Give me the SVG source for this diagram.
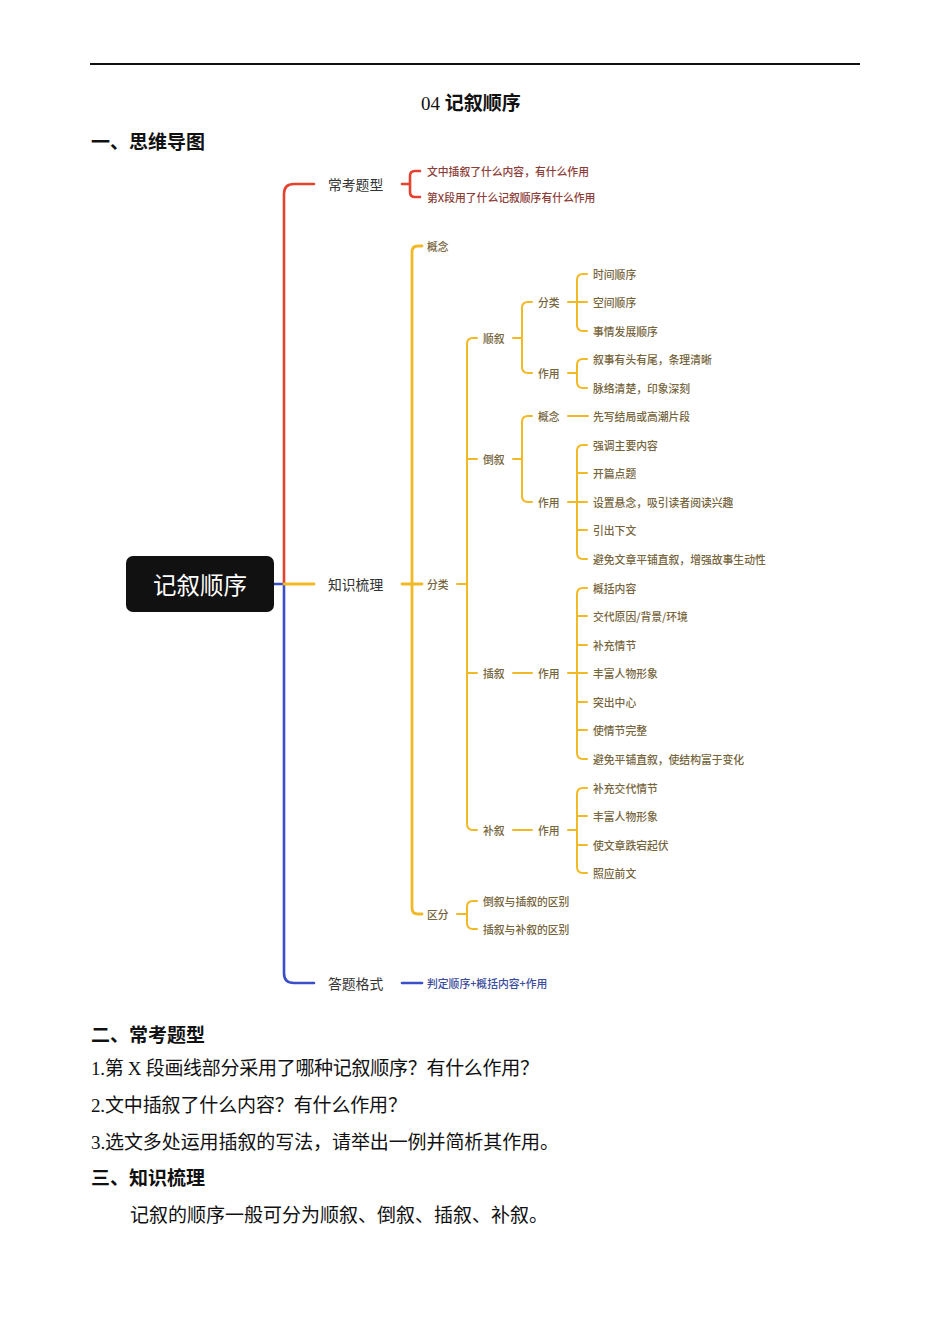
<svg xmlns="http://www.w3.org/2000/svg" width="950" height="1344" viewBox="0 0 950 1344">
<style>
.doc{font-family:"Liberation Serif","Noto Sans CJK SC",serif;font-size:19px;fill:#111}
.hd{font-family:"Noto Sans CJK SC",sans-serif;font-size:19px;font-weight:bold;fill:#111}
.mm{font-family:"Noto Sans CJK SC",sans-serif;dominant-baseline:central}
.main{font-size:13.8px;fill:#333}
.sm{font-size:10.8px;font-weight:500}
.ty{fill:#76653c}
.tr{fill:#8c3d37}
.tb{fill:#3c4d9c}
.ln{fill:none;stroke-linecap:round;stroke-linejoin:round}
.r{stroke:#e4412f;stroke-width:2.6}
.b{stroke:#3a4ec6;stroke-width:2.6}
.y1{stroke:#f2b927;stroke-width:2.8}
.y2{stroke:#f2b927;stroke-width:2}
</style>
<rect width="950" height="1344" fill="#fff"/>
<line x1="90" y1="64" x2="860" y2="64" stroke="#111" stroke-width="2"/>
<text x="421" y="110" class="doc" font-size="18"><tspan>04 </tspan><tspan font-family="Noto Sans CJK SC,sans-serif" font-weight="bold">记叙顺序</tspan></text>
<text x="91" y="149" class="hd">一、思维导图</text>

<g id="connectors">
  <path class="ln b" d="M274 584 H284"/>
  <path class="ln r" d="M284 584 V194 Q284 184 294 184 H314"/>
  <path class="ln b" d="M284 584 V973 Q284 983 294 983 H314"/>
  <path class="ln y1" d="M284 584 H314"/>
  <path class="ln r" d="M402 184 H410 M420 171 H415 Q410 171 410 176 V192 Q410 197 415 197 H420"/>
  <path class="ln b" d="M402 983 H422"/>
  <path class="ln y1" d="M402 584 H422 M422 246 H418 Q412 246 412 252 V908 Q412 914 418 914 H422"/>
  <path class="ln y2" d="M457 584 H467 M477 338 H473 Q467 338 467 344 V824 Q467 830 473 830 H477 M467 459 H477 M467 673 H477"/>
  <path class="ln y2" d="M457 914 H467 M477 901 H473 Q467 901 467 907 V923 Q467 929 473 929 H477"/>
  <path class="ln y2" d="M513 338 H522 M532 302 H528 Q522 302 522 308 V367 Q522 373 528 373 H532"/>
  <path class="ln y2" d="M568 302 H587 M587 274 H583 Q577 274 577 280 V325 Q577 331 583 331 H587"/>
  <path class="ln y2" d="M568 373 H577 M587 359 H583 Q577 359 577 365 V382 Q577 388 583 388 H587"/>
  <path class="ln y2" d="M513 459 H522 M532 416 H528 Q522 416 522 422 V496 Q522 502 528 502 H532"/>
  <path class="ln y2" d="M568 416 H588"/>
  <path class="ln y2" d="M568 502 H587 M587 445 H583 Q577 445 577 451 V553 Q577 559 583 559 H587 M577 473 H587 M577 530 H587"/>
  <path class="ln y2" d="M513 673 H532"/>
  <path class="ln y2" d="M568 673 H587 M587 588 H583 Q577 588 577 594 V753 Q577 759 583 759 H587 M577 616 H587 M577 645 H587 M577 702 H587 M577 730 H587"/>
  <path class="ln y2" d="M513 830 H532"/>
  <path class="ln y2" d="M568 830 H577 M587 788 H583 Q577 788 577 794 V867 Q577 873 583 873 H587 M577 816 H587 M577 845 H587"/>
</g>

<g id="root">
  <rect x="126" y="556" width="148" height="56" rx="7" fill="#111"/>
  <text x="200" y="584" class="mm" font-size="23.5" fill="#fff" text-anchor="middle">记叙顺序</text>
</g>

<g id="n-changkao"><text x="328" y="184" class="mm main">常考题型</text></g>
<g id="n-zhishi"><text x="328" y="584" class="mm main">知识梳理</text></g>
<g id="n-dati"><text x="328" y="983" class="mm main">答题格式</text></g>

<g id="n-q1"><text x="427" y="171" class="mm sm tr">文中插叙了什么内容，有什么作用</text></g>
<g id="n-q2"><text x="427" y="197" class="mm sm tr">第X段用了什么记叙顺序有什么作用</text></g>
<g id="n-geshi"><text x="427" y="983" class="mm sm tb">判定顺序+概括内容+作用</text></g>

<g id="n-gainian"><text x="427" y="246" class="mm sm ty">概念</text></g>
<g id="n-fenlei"><text x="427" y="584" class="mm sm ty">分类</text></g>
<g id="n-qufen"><text x="427" y="914" class="mm sm ty">区分</text></g>
<g id="n-qf1"><text x="483" y="901" class="mm sm ty">倒叙与插叙的区别</text></g>
<g id="n-qf2"><text x="483" y="929" class="mm sm ty">插叙与补叙的区别</text></g>

<g id="n-shunxu"><text x="483" y="338" class="mm sm ty">顺叙</text></g>
<g id="n-daoxu"><text x="483" y="459" class="mm sm ty">倒叙</text></g>
<g id="n-chaxu"><text x="483" y="673" class="mm sm ty">插叙</text></g>
<g id="n-buxu"><text x="483" y="830" class="mm sm ty">补叙</text></g>

<g id="n-sx-fl"><text x="538" y="302" class="mm sm ty">分类</text></g>
<g id="n-sx-zy"><text x="538" y="373" class="mm sm ty">作用</text></g>
<g id="n-sx1"><text x="593" y="274" class="mm sm ty">时间顺序</text></g>
<g id="n-sx2"><text x="593" y="302" class="mm sm ty">空间顺序</text></g>
<g id="n-sx3"><text x="593" y="331" class="mm sm ty">事情发展顺序</text></g>
<g id="n-sx4"><text x="593" y="359" class="mm sm ty">叙事有头有尾，条理清晰</text></g>
<g id="n-sx5"><text x="593" y="388" class="mm sm ty">脉络清楚，印象深刻</text></g>

<g id="n-dx-gn"><text x="538" y="416" class="mm sm ty">概念</text></g>
<g id="n-dx-zy"><text x="538" y="502" class="mm sm ty">作用</text></g>
<g id="n-dx0"><text x="593" y="416" class="mm sm ty">先写结局或高潮片段</text></g>
<g id="n-dx1"><text x="593" y="445" class="mm sm ty">强调主要内容</text></g>
<g id="n-dx2"><text x="593" y="473" class="mm sm ty">开篇点题</text></g>
<g id="n-dx3"><text x="593" y="502" class="mm sm ty">设置悬念，吸引读者阅读兴趣</text></g>
<g id="n-dx4"><text x="593" y="530" class="mm sm ty">引出下文</text></g>
<g id="n-dx5"><text x="593" y="559" class="mm sm ty">避免文章平铺直叙，增强故事生动性</text></g>

<g id="n-cx-zy"><text x="538" y="673" class="mm sm ty">作用</text></g>
<g id="n-cx1"><text x="593" y="588" class="mm sm ty">概括内容</text></g>
<g id="n-cx2"><text x="593" y="616" class="mm sm ty">交代原因/背景/环境</text></g>
<g id="n-cx3"><text x="593" y="645" class="mm sm ty">补充情节</text></g>
<g id="n-cx4"><text x="593" y="673" class="mm sm ty">丰富人物形象</text></g>
<g id="n-cx5"><text x="593" y="702" class="mm sm ty">突出中心</text></g>
<g id="n-cx6"><text x="593" y="730" class="mm sm ty">使情节完整</text></g>
<g id="n-cx7"><text x="593" y="759" class="mm sm ty">避免平铺直叙，使结构富于变化</text></g>

<g id="n-bx-zy"><text x="538" y="830" class="mm sm ty">作用</text></g>
<g id="n-bx1"><text x="593" y="788" class="mm sm ty">补充交代情节</text></g>
<g id="n-bx2"><text x="593" y="816" class="mm sm ty">丰富人物形象</text></g>
<g id="n-bx3"><text x="593" y="845" class="mm sm ty">使文章跌宕起伏</text></g>
<g id="n-bx4"><text x="593" y="873" class="mm sm ty">照应前文</text></g>

<text x="91" y="1042" class="hd">二、常考题型</text>
<text x="91" y="1075" class="doc" textLength="448" lengthAdjust="spacing">1.第 X 段画线部分采用了哪种记叙顺序？有什么作用？</text>
<text x="91" y="1112" class="doc" textLength="316" lengthAdjust="spacing">2.文中插叙了什么内容？有什么作用？</text>
<text x="91" y="1149" class="doc" textLength="468" lengthAdjust="spacing">3.选文多处运用插叙的写法，请举出一例并简析其作用。</text>
<text x="91" y="1185" class="hd">三、知识梳理</text>
<text x="130" y="1222" class="doc" textLength="418" lengthAdjust="spacing">记叙的顺序一般可分为顺叙、倒叙、插叙、补叙。</text>
</svg>
